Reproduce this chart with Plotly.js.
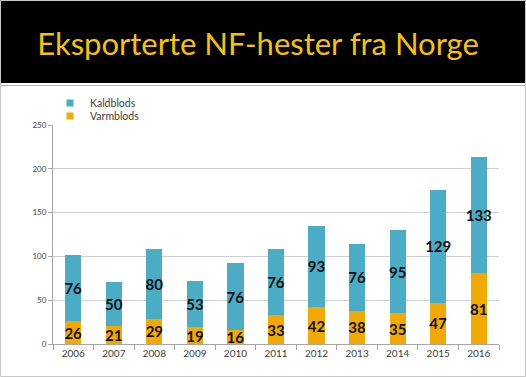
<!DOCTYPE html>
<html><head><meta charset="utf-8">
<script src="https://cdn.plot.ly/plotly-3.0.1.min.js"></script>
<style>html,body{margin:0;padding:0;background:#fff;}#c{width:526px;height:377px;}</style>
</head><body><div id="c"></div>
<script>
const years = ['2006','2007','2008','2009','2010','2011','2012','2013','2014','2015','2016'];
const varmblods = [26,21,29,19,16,33,42,38,35,47,81];
const kaldblods = [76,50,80,53,76,76,93,76,95,129,133];
const yTicks = [0,50,100,150,200,250];
const colKald = '#4BACC6', colVarm = '#F2AA00';

const W=526,H=377, L=53, R=27, T=125, B=33;
const pw=W-L-R, ph=H-T-B;
const px=x=>(x-L)/pw, py=y=>(H-B-y)/ph;

const lblFont = {family:'Lato, sans-serif', size:15, color:'#111', weight:'bold'};
const traces = [
  {type:'bar', name:'Varmblods', x:years, y:varmblods, marker:{color:colVarm}, showlegend:false,
   text:varmblods.map(String), textposition:'inside', insidetextanchor:'middle', textangle:0,
   constraintext:'none', textfont:lblFont, hoverinfo:'skip'},
  {type:'bar', name:'Kaldblods', x:years, y:kaldblods, marker:{color:colKald}, showlegend:false,
   text:kaldblods.map(String), textposition:'inside', insidetextanchor:'middle', textangle:0,
   constraintext:'none', textfont:lblFont, hoverinfo:'skip'},
  {type:'scatter', mode:'markers', name:'Kaldblods', x:[null], y:[null], legend:'legend',
   marker:{symbol:'square', size:7, color:colKald}, hoverinfo:'skip'},
  {type:'scatter', mode:'markers', name:'Varmblods', x:[null], y:[null], legend:'legend2',
   marker:{symbol:'square', size:7, color:colVarm}, hoverinfo:'skip'}
];
const legFont = {family:'Lato, sans-serif', size:10.5, color:'#404040'};
const layout = {
  width:W, height:H, margin:{l:L,r:R,t:T,b:B},
  paper_bgcolor:'#fff', plot_bgcolor:'#fff',
  barmode:'stack', bargap:0.6,
  showlegend:true,
  legend:{x:px(50), y:py(103), xanchor:'left', yanchor:'middle', font:legFont, bgcolor:'rgba(0,0,0,0)', itemwidth:30},
  legend2:{x:px(50), y:py(116), xanchor:'left', yanchor:'middle', font:legFont, bgcolor:'rgba(0,0,0,0)', itemwidth:30},
  title:{text:'Eksporterte NF-hester fra Norge', x:258/W, xref:'container', xanchor:'center', y:1-44/H, yanchor:'middle', yref:'container',
    font:{family:'Lato, sans-serif', size:31, color:'#F7C300'}},
  xaxis:{type:'category', tickson:'boundaries', ticks:'outside', ticklen:5, tickcolor:'#A6A6A6',
    showline:true, linecolor:'#A6A6A6', showgrid:false,
    tickfont:{family:'Lato, sans-serif', size:10, color:'#404040'}},
  yaxis:{range:[0,250], tickvals:yTicks, ticks:'outside', ticklen:4, tickcolor:'#A6A6A6',
    showline:true, linecolor:'#A6A6A6', gridcolor:'#CFCFCF', zeroline:false,
    tickfont:{family:'Lato, sans-serif', size:8, color:'#404040'}},
  shapes:[
    {type:'rect', xref:'paper', yref:'paper', x0:px(0), x1:px(W), y0:py(0), y1:py(83), fillcolor:'#000', line:{width:0}, layer:'below'},
    {type:'line', xref:'paper', yref:'paper', x0:px(0), x1:px(W), y0:py(85.5), y1:py(85.5), line:{color:'#B0B0B0', width:1.2}},
    {type:'rect', xref:'paper', yref:'paper', x0:px(0.5), x1:px(W-0.5), y0:py(0.5), y1:py(H-0.5), line:{color:'#C8C8C8', width:1}}
  ]
};
Plotly.newPlot('c', traces, layout, {displayModeBar:false, staticPlot:true});
</script></body></html>
